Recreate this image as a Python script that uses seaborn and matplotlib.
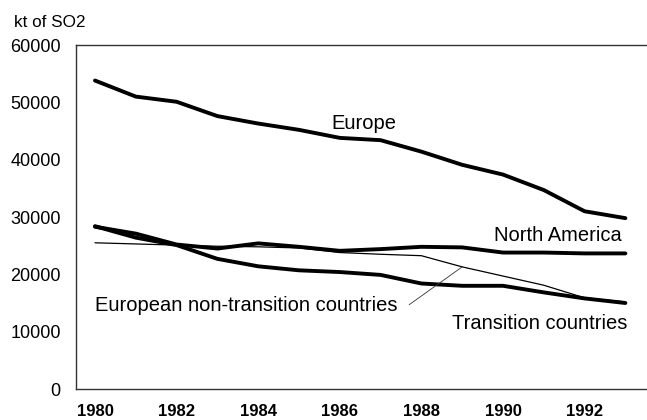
import numpy as np
import pandas as pd
import matplotlib
matplotlib.use("Agg")
import matplotlib.pyplot as plt
import seaborn as sns

years = list(range(1980, 1994))
europe = [53800, 51000, 50100, 47600, 46300, 45200, 43800, 43400, 41400, 39100, 37400, 34700, 31000, 29800]
north_america = [28300, 27100, 25200, 24500, 25400, 24800, 24100, 24400, 24800, 24700, 23800, 23800, 23650, 23650]
transition = [28400, 26400, 25100, 22700, 21400, 20700, 20400, 19900, 18400, 18000, 18000, 16850, 15800, 15000]
non_transition = [25500, 25300, 25100, 24900, 24800, 24600, 23800, 23500, 23250, 21300, 19700, 18100, 15900, 15200]

y_ticks = [0, 10000, 20000, 30000, 40000, 50000, 60000]
x_ticks = [1980, 1982, 1984, 1986, 1988, 1990, 1992]

sns.set_theme(style="white")
plt.rcParams['font.family'] = ['Liberation Sans', 'DejaVu Sans']

fig = plt.figure(figsize=(6.47, 4.2), dpi=100)
ax = fig.add_axes([76/647, 1-389/420, 1-76/647, (389-45)/420])

df = pd.DataFrame({"year": years, "Europe": europe, "North America": north_america,
                   "Transition countries": transition,
                   "European non-transition countries": non_transition})

sns.lineplot(data=df, x="year", y="Europe", color="black", lw=2.8, ax=ax)
sns.lineplot(data=df, x="year", y="North America", color="black", lw=2.8, ax=ax)
sns.lineplot(data=df, x="year", y="Transition countries", color="black", lw=2.8, ax=ax)
sns.lineplot(data=df, x="year", y="European non-transition countries", color="black", lw=0.9, ax=ax)

ax.set_xlim(1979.534, 1993.53)
ax.set_ylim(0, 60000)
ax.set_xticks(x_ticks)
ax.set_yticks(y_ticks)
ax.set_xticklabels([str(v) for v in x_ticks], fontweight='bold')
ax.set_yticklabels([str(v) for v in y_ticks])
ax.set_xlabel("")
ax.set_ylabel("")
ax.tick_params(axis='x', length=0, pad=10.5, labelsize=12, colors='black')
ax.tick_params(axis='y', direction='in', length=6, width=0.8, color='#333333',
               pad=11, labelsize=13, labelcolor='black')

for s in ['left', 'bottom', 'top']:
    ax.spines[s].set_visible(True)
    ax.spines[s].set_color('#333333')
    ax.spines[s].set_linewidth(1.0)
ax.spines['right'].set_visible(False)

fs = 14.5
ax.text(1986.6, 46300, "Europe", ha='center', va='center', fontsize=fs, color='black')
ax.text(1992.92, 26700, "North America", ha='right', va='center', fontsize=fs, color='black')
ax.text(1980.0, 14500, "European non-transition countries", ha='left', va='center', fontsize=fs, color='black')
ax.text(1993.06, 11350, "Transition countries", ha='right', va='center', fontsize=fs, color='black')
ax.annotate("", xy=(1989, non_transition[9]), xytext=(1987.7, 14700),
            arrowprops=dict(arrowstyle='-', lw=0.6, color='#333333', shrinkA=0, shrinkB=0))

fig.text(14/647, 1-22.7/420, "kt of SO2", ha='left', va='center', fontsize=12.3, color='black')

fig.savefig("out.png", dpi=100)
